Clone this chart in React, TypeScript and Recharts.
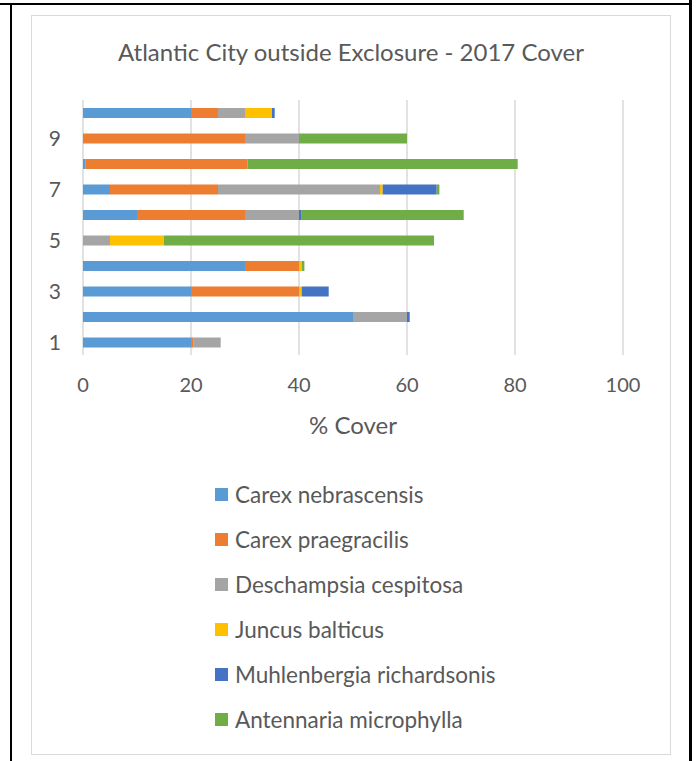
import React from 'react';
import { BarChart, Bar, XAxis, YAxis, CartesianGrid, Legend } from 'recharts';

const categories = ['1', '2', '3', '4', '5', '6', '7', '8', '9', '10'];
const carexNebrascensis = [20, 50, 20, 30, 0, 10, 5, 0.5, 0, 20];
const carexPraegracilis = [0.5, 0, 20, 10, 0, 20, 20, 30, 30, 5];
const deschampsiaCespitosa = [5, 10, 0, 0, 5, 10, 30, 0, 10, 5];
const juncusBalticus = [0, 0, 0.5, 0.5, 10, 0, 0.5, 0, 0, 5];
const muhlenbergiaRichardsonis = [0, 0.5, 5, 0, 0, 0.5, 10, 0, 0, 0.5];
const antennariaMicrophylla = [0, 0, 0, 0.5, 50, 30, 0.5, 50, 20, 0];
const xTicks = [0, 20, 40, 60, 80, 100];

const seriesNames = [
  'Carex nebrascensis',
  'Carex praegracilis',
  'Deschampsia cespitosa',
  'Juncus balticus',
  'Muhlenbergia richardsonis',
  'Antennaria microphylla',
];
const seriesValues = [
  carexNebrascensis,
  carexPraegracilis,
  deschampsiaCespitosa,
  juncusBalticus,
  muhlenbergiaRichardsonis,
  antennariaMicrophylla,
];
const colors = ['#5B9BD5', '#ED7D31', '#A5A5A5', '#FFC000', '#4472C4', '#70AD47'];

const data = categories.map((c, i) => {
  const row: Record<string, string | number> = { cat: c };
  seriesNames.forEach((n, s) => {
    row[n] = seriesValues[s][i];
  });
  return row;
});

const FONT = 'Lato, "Open Sans", sans-serif';
const TEXT = '#595959';

const LegendContent = (props: any) => {
  const payload = [...(props.payload || [])].sort(
    (a: any, b: any) => seriesNames.indexOf(a.value) - seriesNames.indexOf(b.value)
  );
  return (
    <div style={{ fontFamily: FONT }}>
      {payload.map((p: any) => (
        <div key={p.value} style={{ height: 45, display: 'flex', alignItems: 'center' }}>
          <span style={{ display: 'inline-block', width: 13, height: 13, background: p.color, marginRight: 7 }} />
          <span style={{ fontSize: 22.5, color: TEXT, whiteSpace: 'nowrap' }}>{p.value}</span>
        </div>
      ))}
    </div>
  );
};

export default function App() {
  return (
    <div style={{ position: 'fixed', left: 0, top: 0, width: 697, height: 761, background: '#fff', overflow: 'hidden' }}>
      <div style={{ position: 'absolute', left: 0, top: 3, width: 692, height: 2, background: '#000' }} />
      <div style={{ position: 'absolute', left: 10, top: 3, width: 2, height: 758, background: '#000' }} />
      <div style={{ position: 'absolute', left: 689, top: 0, width: 3, height: 761, background: '#000' }} />
      <div
        style={{
          position: 'absolute',
          left: 31,
          top: 15,
          width: 638,
          height: 738,
          border: '1px solid #d9d9d9',
        }}
      />
      <div
        style={{
          position: 'absolute',
          left: 0,
          width: 702,
          top: 37,
          textAlign: 'center',
          fontFamily: FONT,
          fontSize: 24,
          color: TEXT,
          lineHeight: '30px',
        }}
      >
        Atlantic City outside Exclosure - 2017 Cover
      </div>
      <div style={{ position: 'absolute', left: 0, top: 0 }}>
        <BarChart
          width={697}
          height={761}
          data={data}
          layout="vertical"
          margin={{ top: 100, right: 74, left: 23, bottom: 366 }}
        >
          <CartesianGrid horizontal={false} stroke="#d9d9d9" strokeWidth={1.5} />
          <XAxis
            type="number"
            domain={[0, 100]}
            ticks={xTicks}
            axisLine={false}
            tickLine={false}
            tickSize={0}
            tickMargin={23}
            height={40}
            tick={{ fill: TEXT, fontSize: 20, fontFamily: FONT }}
            label={{ value: '% Cover', position: 'bottom', offset: 22, fill: TEXT, fontSize: 24, fontFamily: FONT }}
          />
          <YAxis
            type="category"
            dataKey="cat"
            reversed
            interval={1}
            width={60}
            axisLine={false}
            tickLine={false}
            tickSize={0}
            tickMargin={22}
            tick={{ fill: TEXT, fontSize: 21, fontFamily: FONT }}
          />
          <Legend
            layout="vertical"
            align="center"
            verticalAlign="middle"
            content={<LegendContent />}
            wrapperStyle={{ left: 215, top: 472, width: 420 }}
          />
          {seriesNames.map((n, s) => (
            <Bar key={n} dataKey={n} stackId="a" fill={colors[s]} barSize={10} isAnimationActive={false} />
          ))}
        </BarChart>
      </div>
    </div>
  );
}
